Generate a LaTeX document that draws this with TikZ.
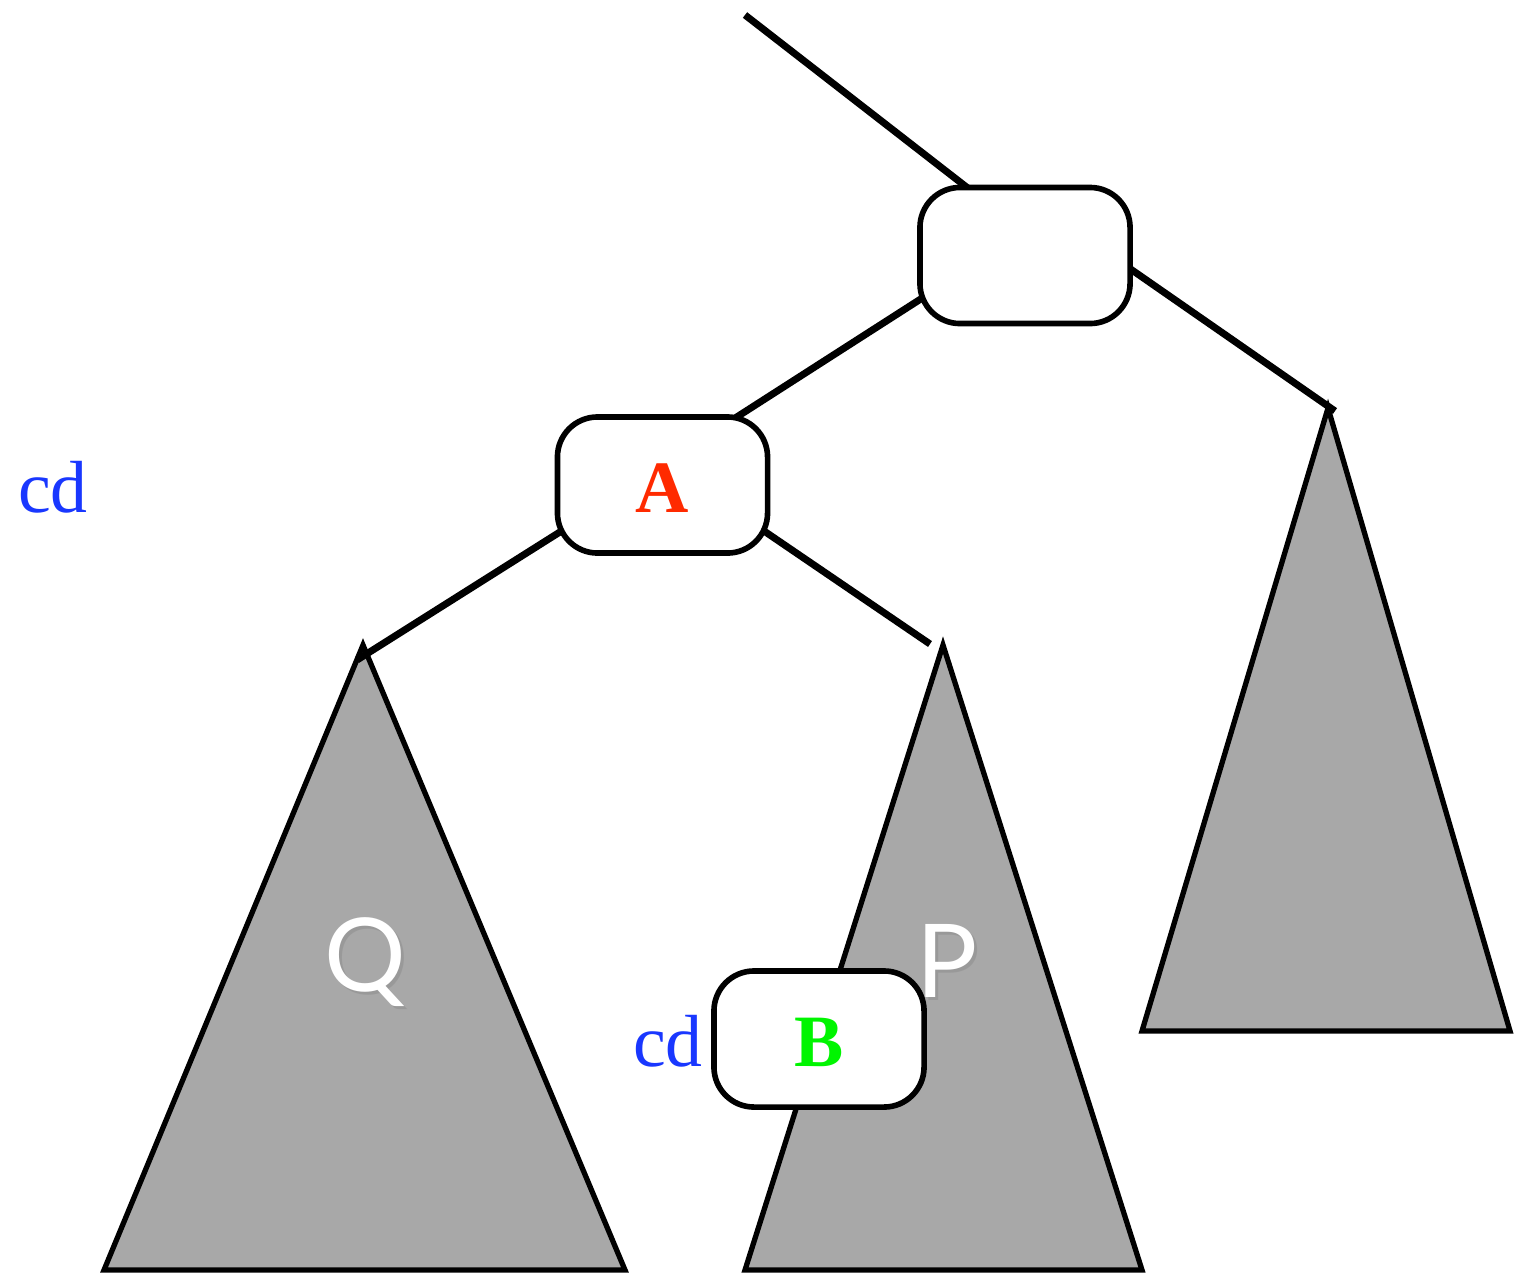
\documentclass[tikz,border=0pt]{standalone}
\usepackage{fontspec}
\setmainfont{Liberation Serif}
\newfontfamily\treesans{Lato}
\usetikzlibrary{backgrounds}
\definecolor{treegray}{RGB}{168,168,168}
\definecolor{keyred}{RGB}{255,42,0}
\definecolor{keygreen}{RGB}{0,245,0}
\definecolor{cdblue}{RGB}{25,55,255}
\tikzset{
  treenode/.style={draw=black, fill=white, line width=1.6pt, rounded corners=0.4cm,
    minimum width=2.10cm, minimum height=1.36cm, inner sep=0pt},
  edge/.style={draw=black, line width=2pt},
  subtree/.style={draw=black, fill=treegray, line width=1.5pt, line join=miter},
  keytext/.style={font=\fontsize{21}{24}\selectfont\bfseries, inner sep=0pt, anchor=base},
  cdtext/.style={text=cdblue, font=\fontsize{21}{24}\selectfont, inner sep=0pt, anchor=base},
  treelabel/.style={text=white, font=\treesans\fontsize{29}{32}\selectfont, inner sep=0pt, anchor=base},
  treeshadow/.style={text=black!45, opacity=0.5, font=\treesans\fontsize{29}{32}\selectfont, inner sep=0pt, anchor=base}
}
\begin{document}
\begin{tikzpicture}[x=0.01cm, y=-0.01cm]
\useasboundingbox (0,0) rectangle (1525,1272);

% inner nodes of the tree
\node[treenode] (root) at (1025,255.5) {};
\node[treenode] (A) at (662.5,485) {};

% free ends of the connectors and subtree tips
\coordinate (top) at (745,15);
\coordinate (qend) at (357,660);
\coordinate (pend) at (930,644);
\coordinate (rend) at (1335,411);

\begin{pgfonlayer}{background}
  % subtrees
  \draw[subtree] (363,645) -- (104,1270) -- (625,1270) -- cycle;
  \draw[subtree] (943,645) -- (745,1270) -- (1142,1270) -- cycle;
  \draw[subtree] (1328,408) -- (1142,1031) -- (1510,1031) -- cycle;
  % connectors, run a little way under the node boxes
  \draw[edge, shorten >=-0.15cm] (top) -- (root.131);
  \draw[edge, shorten <=-0.3cm] (root.-8.8) -- (rend);
  \draw[edge, shorten <=-0.3cm, shorten >=-0.3cm] (root.203) -- (A.42.4);
  \draw[edge, shorten <=-0.3cm] (A.205.6) -- (qend);
  \draw[edge, shorten <=-0.3cm] (A.-25) -- (pend);
\end{pgfonlayer}

\node[keytext, text=keyred] (Akey) at (662,512) {A};

% node B sitting inside the middle subtree
\node[treenode] (B) at (819,1039) {};
\node[keytext, text=keygreen] (Bkey) at (819,1066) {B};

% cost labels
\node[cdtext] (cdA) at (53,512) {cd};
\node[cdtext] (cdB) at (668,1066) {cd};

% subtree names
\node[treeshadow] at (368,994) {Q};
\node[treelabel] (Q) at (365,991) {Q};
\node[treeshadow] at (950,1000) {P};
\node[treelabel] (P) at (947,997) {P};
\end{tikzpicture}
\end{document}
